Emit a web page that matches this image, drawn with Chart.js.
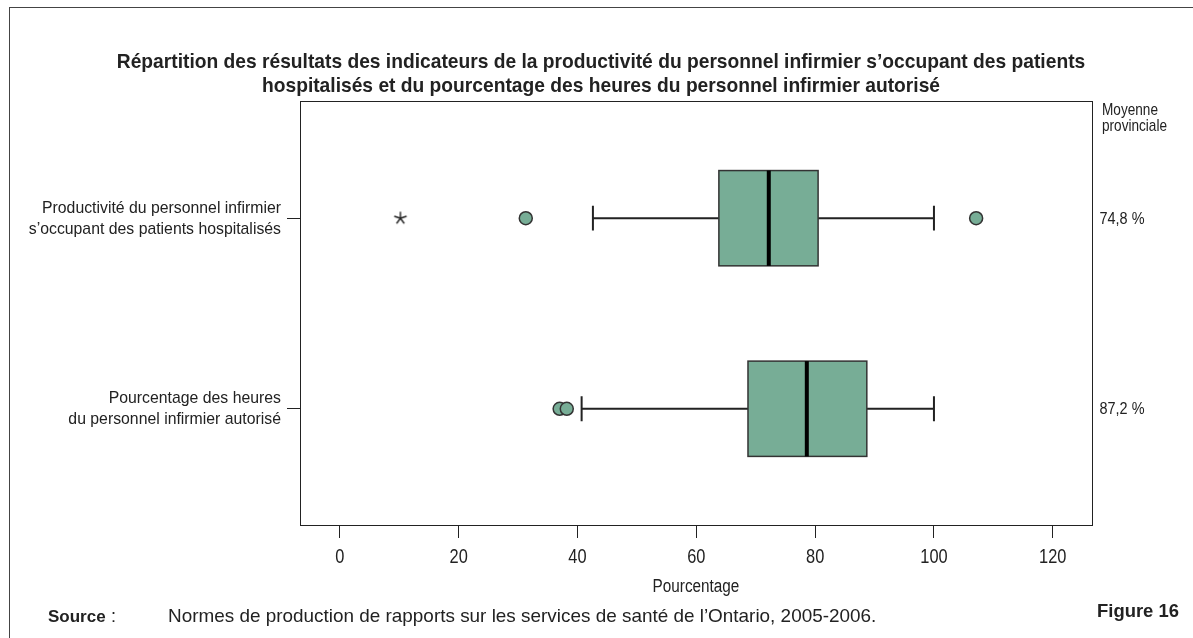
<!DOCTYPE html>
<html lang="fr">
<head>
<meta charset="utf-8">
<title>Figure 16</title>
<script src="https://cdn.jsdelivr.net/npm/chart.js@4.4.1/dist/chart.umd.min.js"></script>
<style>
    body { margin: 0; background: #fff; }
    #cadre { position: absolute; left: 9px; top: 7px; right: 0; bottom: 0; border-top: 1px solid #444; border-left: 1px solid #444; }
    canvas { position: absolute; left: 0; top: 0; }
</style>
</head>
<body>
<div id="cadre"></div>
<canvas id="boite" width="1193" height="638"></canvas>
<script>
// donnees
const categories = [
    ['Productivité du personnel infirmier', 's’occupant des patients hospitalisés'],
    ['Pourcentage des heures', 'du personnel infirmier autorisé']
];
const positions = [1, 2];
const minimum = [42.6, 40.7];
const q1 = [63.8, 68.7];
const mediane = [72.2, 78.6];
const q3 = [80.5, 88.7];
const maximum = [100, 100];
const aberrants = [[31.3, 107.1], [37.0, 38.2]];
const extremes = [[10.2], []];
const moyennes = ['74,8 %', '87,2 %'];
const graduations = [0, 20, 40, 60, 80, 100, 120];

const vert = '#77ad96';
const trait = '#222';
const police = "'Liberation Sans', Arial, sans-serif";

// texte un peu condense (pas de police etroite installee)
function texte(ctx, t, x, y, align, taille, gras, sx) {
    ctx.save();
    ctx.font = (gras ? 'bold ' : '') + taille + 'px ' + police;
    ctx.translate(x, y);
    ctx.scale(sx, 1);
    ctx.textAlign = align;
    ctx.textBaseline = 'middle';
    ctx.fillStyle = '#222';
    ctx.fillText(t, 0, 0);
    ctx.restore();
}

// asterisque pour les valeurs extremes
function asterisque() {
    const c = document.createElement('canvas');
    c.width = 16; c.height = 16;
    const g = c.getContext('2d');
    g.strokeStyle = '#222';
    g.lineWidth = 1.4;
    g.beginPath();
    for (let k = 0; k < 5; k++) {
        const ang = -Math.PI / 2 + k * 2 * Math.PI / 5;
        g.moveTo(8, 8);
        g.lineTo(8 + 6.5 * Math.cos(ang), 8 + 6.5 * Math.sin(ang));
    }
    g.stroke();
    return c;
}

let ptsAberrants = [];
let ptsExtremes = [];
positions.forEach((p, i) => {
    aberrants[i].forEach(v => ptsAberrants.push({ x: v, y: p }));
    extremes[i].forEach(v => ptsExtremes.push({ x: v, y: p }));
});

const dessinBoites = {
    id: 'dessinBoites',
    beforeDatasetsDraw(chart) {
        const ctx = chart.ctx;
        const x = chart.scales.x;
        const y = chart.scales.y;
        const a = chart.chartArea;
        ctx.save();
        // cadre du graphique
        ctx.strokeStyle = trait;
        ctx.lineWidth = 1;
        ctx.strokeRect(a.left + 0.5, a.top + 0.5, a.right - a.left, a.bottom - a.top);

        positions.forEach((p, i) => {
            const yc = y.getPixelForValue(p);
            const haut = y.getPixelForValue(p - 0.25);
            const bas = y.getPixelForValue(p + 0.25);
            const capH = y.getPixelForValue(p - 0.065);
            const capB = y.getPixelForValue(p + 0.065);
            const xmin = x.getPixelForValue(minimum[i]);
            const xmax = x.getPixelForValue(maximum[i]);
            const xq1 = x.getPixelForValue(q1[i]);
            const xq3 = x.getPixelForValue(q3[i]);
            const xmed = x.getPixelForValue(mediane[i]);

            // moustaches
            ctx.strokeStyle = trait;
            ctx.lineWidth = 2;
            ctx.beginPath();
            ctx.moveTo(xmin, yc); ctx.lineTo(xq1, yc);
            ctx.moveTo(xq3, yc); ctx.lineTo(xmax, yc);
            ctx.moveTo(xmin, capH); ctx.lineTo(xmin, capB);
            ctx.moveTo(xmax, capH); ctx.lineTo(xmax, capB);
            ctx.stroke();

            // boite
            ctx.fillStyle = vert;
            ctx.fillRect(xq1, haut, xq3 - xq1, bas - haut);
            ctx.strokeStyle = '#333';
            ctx.lineWidth = 1.5;
            ctx.strokeRect(xq1, haut, xq3 - xq1, bas - haut);

            // mediane
            ctx.strokeStyle = '#000';
            ctx.lineWidth = 4;
            ctx.beginPath();
            ctx.moveTo(xmed, haut); ctx.lineTo(xmed, bas);
            ctx.stroke();
        });
        ctx.restore();
    },
    afterDraw(chart) {
        const ctx = chart.ctx;
        const a = chart.chartArea;
        const x = chart.scales.x;
        const y = chart.scales.y;

        // titre
        texte(ctx, 'Répartition des résultats des indicateurs de la productivité du personnel infirmier s’occupant des patients', 601, 62, 'center', 21, true, 0.915);
        texte(ctx, 'hospitalisés et du pourcentage des heures du personnel infirmier autorisé', 601, 86, 'center', 21, true, 0.915);

        // etiquettes des categories et moyennes
        positions.forEach((p, i) => {
            const yc = y.getPixelForValue(p);
            texte(ctx, categories[i][0], a.left - 19, yc - 10, 'right', 17, false, 0.93);
            texte(ctx, categories[i][1], a.left - 19, yc + 11, 'right', 17, false, 0.93);
            texte(ctx, moyennes[i], 1122, yc + 1, 'center', 17, false, 0.85);
        });

        // graduations de l'axe
        x.ticks.forEach(t => {
            texte(ctx, String(t.value), x.getPixelForValue(t.value), 557, 'center', 21, false, 0.78);
        });

        texte(ctx, 'Moyenne', a.right + 10, 110, 'left', 17, false, 0.8);
        texte(ctx, 'provinciale', a.right + 10, 126, 'left', 17, false, 0.8);
        texte(ctx, 'Pourcentage', (a.left + a.right) / 2, 587, 'center', 18, false, 0.85);

        // source
        texte(ctx, 'Source', 48, 617, 'left', 17, true, 1);
        texte(ctx, ':', 111, 617, 'left', 18, false, 1);
        texte(ctx, 'Normes de production de rapports sur les services de santé de l’Ontario, 2005-2006.', 168, 617, 'left', 19, false, 0.995);
        texte(ctx, 'Figure 16', 1097, 612, 'left', 19, true, 0.97);
    }
};

new Chart(document.getElementById('boite'), {
    type: 'scatter',
    data: {
        datasets: [{
            label: 'Valeurs aberrantes',
            data: ptsAberrants,
            pointStyle: 'circle',
            pointRadius: 6.5,
            pointBackgroundColor: vert,
            pointBorderColor: '#333',
            pointBorderWidth: 1.5
        }, {
            label: 'Valeurs extrêmes',
            data: ptsExtremes,
            pointStyle: asterisque(),
            pointRadius: 7
        }]
    },
    options: {
        responsive: false,
        animation: false,
        layout: { padding: { left: 0, right: 101, top: 101, bottom: 0 } },
        plugins: {
            legend: { display: false },
            tooltip: { enabled: false }
        },
        scales: {
            x: {
                type: 'linear',
                min: -6.7,
                max: 126.6,
                afterFit: s => { s.height = 113; },
                afterBuildTicks: s => { s.ticks = graduations.map(v => ({ value: v })); },
                grid: { drawOnChartArea: false, drawTicks: true, tickLength: 13, color: trait },
                border: { display: true, color: trait },
                ticks: { color: 'rgba(0,0,0,0)', font: { family: police, size: 16 } }
            },
            y: {
                type: 'linear',
                reverse: true,
                min: 0.385,
                max: 2.61,
                afterFit: s => { s.width = 300; },
                afterBuildTicks: s => { s.ticks = positions.map(v => ({ value: v })); },
                grid: { drawOnChartArea: false, drawTicks: true, tickLength: 13, color: trait },
                border: { display: true, color: trait },
                ticks: { color: 'rgba(0,0,0,0)', callback: () => '' }
            }
        }
    },
    plugins: [dessinBoites]
});
</script>
</body>
</html>
